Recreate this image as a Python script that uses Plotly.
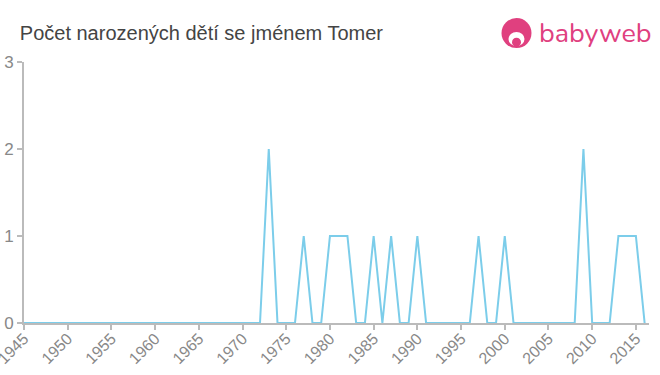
import plotly.graph_objects as go

years = list(range(1945, 2017))
counts_nonzero = {1973: 2, 1977: 1, 1980: 1, 1981: 1, 1982: 1, 1985: 1, 1987: 1,
                  1990: 1, 1997: 1, 2000: 1, 2009: 2, 2013: 1, 2014: 1, 2015: 1}
counts = [counts_nonzero.get(y, 0) for y in years]
tick_years = list(range(1945, 2020, 5))
title = "Počet narozených dětí se jménem Tomer"

fig = go.Figure()
fig.add_trace(go.Scatter(x=years, y=counts, mode="lines",
                         line=dict(color="#7ccdea", width=2), hoverinfo="x+y"))

fig.update_layout(
    width=660, height=375,
    margin=dict(l=24, r=11, t=62, b=52),
    paper_bgcolor="white", plot_bgcolor="white",
    showlegend=False,
    font=dict(family="Arial, Liberation Sans, sans-serif", color="#888"),
    title=dict(text=title, x=0.03, xanchor="left", y=0.912, yanchor="middle",
               font=dict(size=20, color="#444")),
    xaxis=dict(range=[1945, 2016.5], tickvals=tick_years, tickangle=-45,
               automargin=False, ticklabeloverflow="allow", ticklabelstandoff=-7,
               showgrid=False, zeroline=False, showline=True, linecolor="#bbb",
               linewidth=2, ticks="outside", tickcolor="#bbb", ticklen=5,
               tickwidth=2, tickfont=dict(size=16, color="#888")),
    yaxis=dict(range=[0, 3], tickvals=[0, 1, 2, 3], showgrid=False, zeroline=False,
               automargin=False,
               showline=True, linecolor="#bbb", linewidth=2, ticks="outside",
               tickcolor="#bbb", ticklen=5, tickwidth=2,
               tickfont=dict(size=17, color="#888")),
)

# logo
pink = "#e0407f"
fig.add_shape(type="circle", xref="paper", yref="paper", xsizemode="pixel", ysizemode="pixel",
              xanchor=0.788, yanchor=1.111, x0=-15, x1=15, y0=-15, y1=15,
              fillcolor=pink, line=dict(width=0))
fig.add_shape(type="circle", xref="paper", yref="paper", xsizemode="pixel", ysizemode="pixel",
              xanchor=0.788, yanchor=1.088, x0=-8, x1=8, y0=-7, y1=7,
              fillcolor="white", line=dict(width=0))
fig.add_shape(type="circle", xref="paper", yref="paper", xsizemode="pixel", ysizemode="pixel",
              xanchor=0.788, yanchor=1.076, x0=-4.5, x1=4.5, y0=-4.5, y1=4.5,
              fillcolor=pink, line=dict(width=0))
fig.add_annotation(text="babyweb", xref="paper", yref="paper", x=1.008, y=1.111,
                   xanchor="right", yanchor="middle", showarrow=False,
                   font=dict(size=27, color=pink, family="Nunito, Lato, sans-serif"))

fig.write_html("out.html")
